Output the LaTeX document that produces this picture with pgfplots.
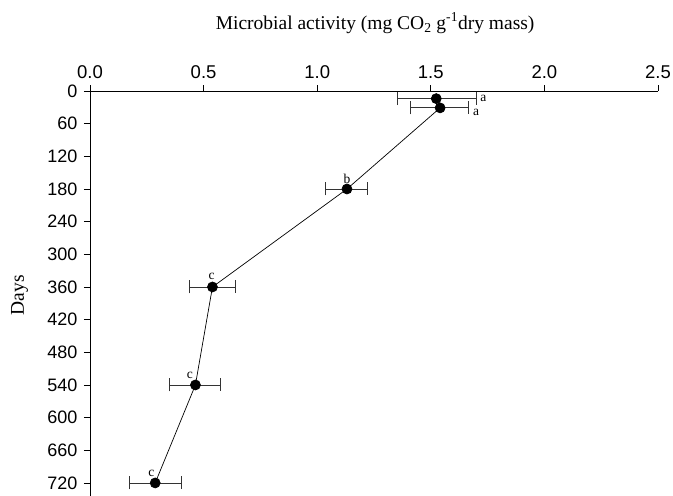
\documentclass[border=0pt]{standalone}
\usepackage{fontspec}
\setmainfont{Liberation Serif}
\newfontfamily\tickfont{Liberation Sans}
\usepackage{pgfplots}
\pgfplotsset{compat=1.18}
\begin{document}
\begin{tikzpicture}
\begin{axis}[
  scale only axis,
  width=568pt, height=405pt,
  xmin=0, xmax=2.5, ymin=0, ymax=744,
  y dir=reverse,
  axis x line*=top,
  axis y line*=left,
  xtick={0,0.5,1,1.5,2,2.5},
  ytick={0,60,...,720},
  tick align=outside,
  major tick length=6pt,
  tick style={black, line width=0.8pt},
  axis line style={black, line width=0.8pt},
  /pgf/number format/assume math mode=true,
  xticklabel style={font=\tickfont\fontsize{18.5}{20}\selectfont, /pgf/number format/fixed, /pgf/number format/fixed zerofill, /pgf/number format/precision=1, yshift=2.5pt},
  yticklabel style={font=\tickfont\fontsize{18}{20}\selectfont, xshift=-3pt},
  clip=false,
]
\addplot[black, line width=0.7pt, mark=*, mark size=5pt,
  error bars/.cd, x dir=both, x explicit,
  error bar style={black!80, line width=0.8pt},
  error mark options={black!80, mark size=6.5pt, line width=0.8pt, rotate=90}]
  table[x=x, y=y, x error plus=ep, x error minus=em] {
  x     y    ep     em
  1.524 14   0.176  0.172
  1.541 31   0.124  0.132
  1.131 180  0.092  0.093
  0.539 360  0.101  0.102
  0.464 540  0.110  0.115
  0.287 720  0.115  0.115
};
\node[font=\fontsize{13.5}{14}\selectfont] at (axis cs:1.731,14) {a};
\node[font=\fontsize{13.5}{14}\selectfont] at (axis cs:1.70,40) {a};
\node[font=\fontsize{13.5}{14}\selectfont] at (axis cs:1.131,162) {b};
\node[font=\fontsize{13.5}{14}\selectfont] at (axis cs:0.535,341) {c};
\node[font=\fontsize{13.5}{14}\selectfont] at (axis cs:0.44,523) {c};
\node[font=\fontsize{13.5}{14}\selectfont] at (axis cs:0.27,702) {c};
\node[font=\fontsize{19.5}{22}\selectfont, anchor=base] at ([yshift=62pt]axis description cs:0.502,1) {Microbial activity (mg CO\textsubscript{2} g\textsuperscript{-1}dry mass)};
\node[font=\fontsize{19.5}{22}\selectfont, rotate=90] at ([xshift=-70.5pt]axis description cs:0,0.496) {Days};
\end{axis}
\pgfresetboundingbox
\path[use as bounding box] (-90pt,0pt) rectangle (583pt,496pt);
\end{tikzpicture}
\end{document}
